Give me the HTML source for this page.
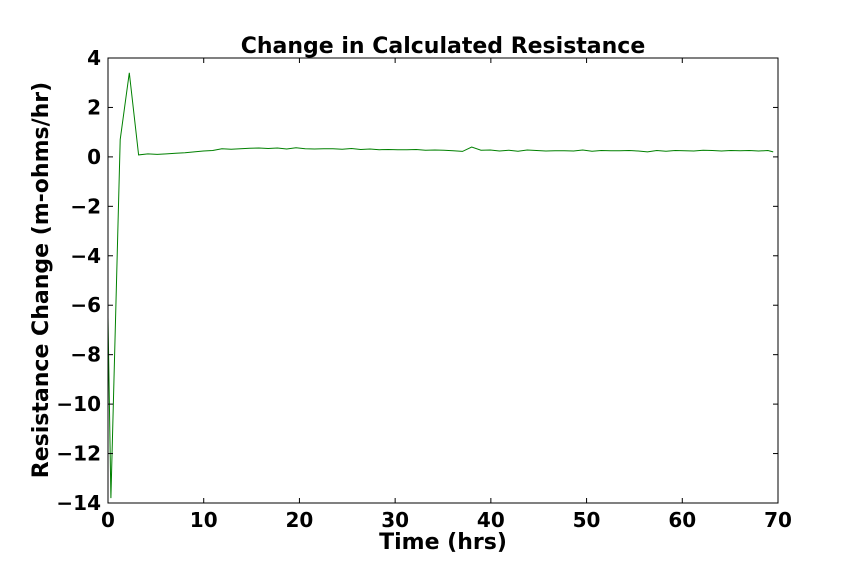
<!DOCTYPE html>
<html><head><meta charset="utf-8"><style>
body{margin:0;background:#fff;width:864px;height:576px;overflow:hidden}
svg{font-family:"DejaVu Sans","Liberation Sans",sans-serif;font-weight:bold}
</style></head><body>
<svg id="c" width="864" height="576"></svg>
<script>
const xTicks=[0,10,20,30,40,50,60,70];
const yTicks=[4,2,0,-2,-4,-6,-8,-10,-12,-14];
const times=[0,0.3,1.27,2.23,3.2,4.17,5.14,6.1,7.07,8.04,9.0,9.97,10.94,11.9,12.87,13.84,14.8,15.77,16.74,17.7,18.67,19.64,20.6,21.57,22.54,23.5,24.47,25.44,26.4,27.37,28.34,29.3,30.27,31.24,32.2,33.17,34.14,35.1,36.07,37.04,38.0,38.97,39.94,40.9,41.87,42.84,43.8,44.77,45.74,46.7,47.67,48.64,49.6,50.57,51.54,52.5,53.47,54.44,55.4,56.37,57.34,58.3,59.27,60.24,61.2,62.17,63.14,64.1,65.07,66.04,67.0,67.97,68.94,69.5];
const values=[-6.5,-13.8,0.7,3.4,0.08,0.12,0.1,0.12,0.15,0.17,0.2,0.24,0.26,0.33,0.31,0.33,0.35,0.36,0.34,0.36,0.32,0.37,0.33,0.32,0.33,0.33,0.31,0.34,0.3,0.32,0.29,0.3,0.29,0.29,0.3,0.27,0.28,0.27,0.25,0.22,0.4,0.27,0.28,0.24,0.27,0.23,0.28,0.26,0.24,0.25,0.25,0.24,0.28,0.23,0.26,0.25,0.25,0.26,0.24,0.2,0.26,0.23,0.26,0.25,0.24,0.27,0.26,0.24,0.26,0.25,0.26,0.24,0.26,0.2];
const L=108,R=778,T=58,B=503,x0=0,x1=70,y0=-14,y1=4;
const sx=v=>L+(v-x0)/(x1-x0)*(R-L), sy=v=>B-(v-y0)/(y1-y0)*(B-T);
const svg=document.getElementById('c'),NS='http://www.w3.org/2000/svg';
function mk(t,a,txt){const e=document.createElementNS(NS,t);for(const k in a)e.setAttribute(k,a[k]);if(txt!=null)e.textContent=txt;svg.appendChild(e);return e;}
const n=Math.min(times.length,values.length);
let d='';for(let i=0;i<n;i++)d+=(i?'L':'M')+sx(times[i]).toFixed(1)+' '+sy(values[i]).toFixed(1);
const ln=mk('path',{d:d,fill:'none',stroke:'#008000','stroke-width':1});


xTicks.forEach(v=>{const x=sx(v);
 mk('line',{x1:x,x2:x,y1:B,y2:B-5,stroke:'#000'});mk('line',{x1:x,x2:x,y1:T,y2:T+5,stroke:'#000'});
 const t=mk('text',{x:x,y:B+24,'text-anchor':'middle','font-size':20},v);
 
 });
yTicks.forEach(v=>{const y=sy(v);
 mk('line',{x1:L,x2:L+5,y1:y,y2:y,stroke:'#000'});mk('line',{x1:R,x2:R-5,y1:y,y2:y,stroke:'#000'});
 const t=mk('text',{x:L-7,y:y+7,'text-anchor':'end','font-size':20},v<0?'\u2212'+(-v):v);
 
 });
const fr=mk('rect',{x:L,y:T,width:R-L,height:B-T,fill:'none',stroke:'#000'});


const ti=mk('text',{x:(L+R)/2,y:53,'text-anchor':'middle','font-size':22},'Change in Calculated Resistance');


const xl=mk('text',{x:(L+R)/2,y:549,'text-anchor':'middle','font-size':22},'Time (hrs)');


const yl=mk('text',{x:0,y:0,'text-anchor':'middle','font-size':22,transform:'translate(48,280) rotate(-90)'},'Resistance Change (m-ohms/hr)');


</script>
</body></html>
